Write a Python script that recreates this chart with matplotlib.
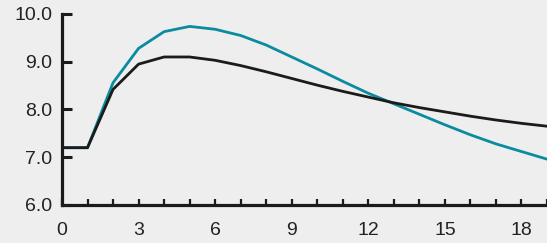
import matplotlib.pyplot as plt
from matplotlib.ticker import MultipleLocator

months = list(range(20))
black_line = [7.2, 7.2, 8.42, 8.95, 9.1, 9.1, 9.03, 8.92, 8.79, 8.65, 8.51, 8.38, 8.26, 8.14, 8.04, 7.95, 7.86, 7.78, 7.71, 7.65]
teal_line = [7.2, 7.2, 8.56, 9.28, 9.63, 9.74, 9.68, 9.55, 9.35, 9.1, 8.85, 8.59, 8.34, 8.12, 7.9, 7.68, 7.47, 7.28, 7.12, 6.96]
xticks = [0, 3, 6, 9, 12, 15, 18]
yticks = [6.0, 7.0, 8.0, 9.0, 10.0]

bg = "#eeeeee"
fig = plt.figure(figsize=(5.47, 2.43), dpi=100, facecolor=bg)
ax = fig.add_axes([0.1133, 0.1564, 0.8867, 0.786])
ax.set_facecolor(bg)

ax.plot(months, teal_line, color="#0b8ba0", lw=2.0, solid_joinstyle="round")
ax.plot(months, black_line, color="#1c1a1a", lw=2.0, solid_joinstyle="round")

ax.set_xlim(0, 19.0)
ax.set_ylim(6, 10)
ax.set_xticks(xticks)
ax.xaxis.set_minor_locator(MultipleLocator(1))
ax.set_yticks(yticks)
ax.set_yticklabels([f"{v:.1f}" for v in yticks])

for s in ["top", "right"]:
    ax.spines[s].set_visible(False)
for s in ["left", "bottom"]:
    ax.spines[s].set_linewidth(2.3)
    ax.spines[s].set_color("#1c1a1a")
    ax.spines[s].set_capstyle("projecting")

ax.tick_params(axis="y", which="major", direction="in", length=7, width=2.2, color="#1c1a1a",
               labelsize=14, pad=7, labelcolor="#222222")
ax.tick_params(axis="x", which="both", direction="in", length=4, width=1.6, color="#1c1a1a",
               labelsize=14, pad=12, labelcolor="#222222")
for lab in ax.get_xticklabels() + ax.get_yticklabels():
    lab.set_family("Liberation Sans")

fig.savefig("out.png", dpi=100, facecolor=bg)
